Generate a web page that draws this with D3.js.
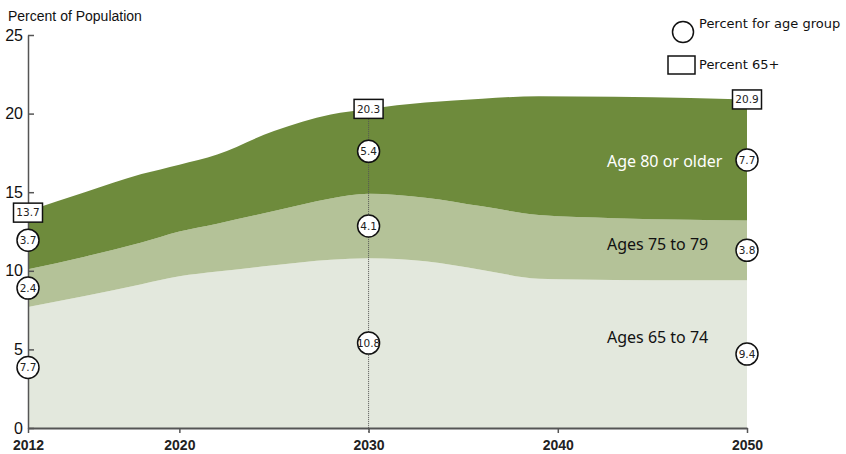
<!DOCTYPE html>
<html>
<head>
<meta charset="utf-8">
<script src="https://cdn.jsdelivr.net/npm/d3@7"></script>
<style>
  body { margin: 0; background: #fff; }
  svg { display: block; }
</style>
</head>
<body>
<svg id="chart"></svg>
<script>
// data
const years = [2012, 2015, 2018, 2020, 2022, 2025, 2028, 2030, 2033, 2036, 2039, 2043, 2047, 2050];
const ages65to74 = [7.7, 8.4, 9.15, 9.65, 9.95, 10.35, 10.7, 10.8, 10.6, 10.05, 9.5, 9.42, 9.4, 9.4];
const ages75to79 = [2.4, 2.5, 2.65, 2.85, 3.05, 3.45, 3.9, 4.1, 4.05, 4.05, 4.05, 3.93, 3.85, 3.8];
const ages80plus = [3.7, 4.1, 4.35, 4.25, 4.4, 5.1, 5.35, 5.4, 6.05, 6.85, 7.55, 7.72, 7.75, 7.7];

const groupNames = ["Ages 65 to 74", "Ages 75 to 79", "Age 80 or older"];
const labelYears = [2012, 2030, 2050];
const total65 = [13.7, 20.3, 20.9];
const xTicks = [2012, 2020, 2030, 2040, 2050];
const yTicks = [0, 5, 10, 15, 20, 25];

const width = 846, height = 454;
const margin = {top: 35, right: 99, bottom: 26, left: 28};
const w = width - margin.left - margin.right,
  h = height - margin.top - margin.bottom;

const colors = ["#e3e8dd", "#b4c298", "#6e8b3c"];
const labelColors = ["#111", "#111", "#fff"];

const svg = d3.select("#chart")
  .attr("width", width)
  .attr("height", height);

const g = svg.append("g")
  .attr("transform", "translate(" + margin.left + "," + margin.top + ")");

let x = d3.scaleLinear().domain([2012, 2050]).range([0, w]);
let y = d3.scaleLinear().domain([0, 25]).range([h, 0]);

let rows = years.map((yr, i) => ({
  year: yr, a: ages65to74[i], b: ages75to79[i], c: ages80plus[i]
}));

let stack = d3.stack().keys(["a", "b", "c"]);
let series = stack(rows);

let area = d3.area()
  .x(d => x(d.data.year))
  .y0(d => y(d[0]))
  .y1(d => y(d[1]))
  .curve(d3.curveMonotoneX);

g.selectAll(".layer")
  .data(series)
  .enter().append("path")
  .attr("class", "layer")
  .attr("d", area)
  .style("fill", (d, i) => colors[i]);

// layer names
const nameYear = 2042.6;
const nameVals = [5.4, 11.3, 16.6];
g.selectAll(".name")
  .data(groupNames)
  .enter().append("text")
  .attr("x", x(nameYear))
  .attr("y", (d, i) => y(nameVals[i]))
  .style("font-family", "'Noto Sans', sans-serif")
  .style("font-size", "16px")
  .style("fill", (d, i) => labelColors[i])
  .text(d => d);

// dotted guide at 2030
g.append("line")
  .attr("x1", x(2030)).attr("x2", x(2030))
  .attr("y1", y(20.3)).attr("y2", h + 5)
  .attr("stroke", "#555")
  .attr("stroke-width", 1)
  .attr("stroke-dasharray", "1,1");

// axes
let yAxis = d3.axisLeft(y)
  .tickValues(yTicks)
  .tickSizeInner(-6)
  .tickSizeOuter(0)
  .tickPadding(5);

let yg = g.append("g").call(yAxis);
yg.select(".domain").attr("stroke", "#555").attr("stroke-width", 1.5);
yg.selectAll(".tick line").attr("stroke", "#555").attr("stroke-width", 1.5);
yg.selectAll("text")
  .style("font-family", "'Liberation Sans', Arial, sans-serif")
  .style("font-size", "16px")
  .attr("fill", "#111");

let xAxis = d3.axisBottom(x)
  .tickValues(xTicks)
  .tickFormat(d3.format("d"))
  .tickSizeInner(5)
  .tickSizeOuter(0)
  .tickPadding(7);

let xg = g.append("g")
  .attr("transform", "translate(0," + h + ")")
  .call(xAxis);
xg.select(".domain").attr("stroke", "#555").attr("stroke-width", 2);
xg.selectAll(".tick line").attr("stroke", "#555").attr("stroke-width", 1.5);
xg.selectAll("text")
  .style("font-family", "'Liberation Sans', Arial, sans-serif")
  .style("font-size", "14px")
  .style("font-weight", "bold")
  .attr("fill", "#222");

// circle labels: value of each group at the label years
labelYears.forEach((yr, k) => {
  let idx = years.indexOf(yr);
  series.forEach((s, i) => {
    let d = s[idx];
    let cx = x(yr), cy = y((d[0] + d[1]) / 2);
    g.append("circle")
      .attr("cx", cx).attr("cy", cy).attr("r", 11)
      .attr("fill", "#fff")
      .attr("stroke", "#111")
      .attr("stroke-width", 1.5);
    g.append("text")
      .attr("x", cx).attr("y", cy)
      .attr("dy", "0.35em")
      .attr("text-anchor", "middle")
      .style("font-family", "'DejaVu Sans', Verdana, sans-serif")
      .style("font-size", "10.5px")
      .attr("fill", "#222")
      .text(d.data[["a", "b", "c"][i]].toFixed(1));
  });

  // box with total 65+
  let bx = x(yr), by = y(total65[k]);
  g.append("rect")
    .attr("x", bx - 14.5).attr("y", by - 9.5)
    .attr("width", 29).attr("height", 19)
    .attr("fill", "#fff")
    .attr("stroke", "#111")
    .attr("stroke-width", 1.5);
  g.append("text")
    .attr("x", bx).attr("y", by)
    .attr("dy", "0.35em")
    .attr("text-anchor", "middle")
    .style("font-family", "'DejaVu Sans', Verdana, sans-serif")
    .style("font-size", "10.5px")
    .attr("fill", "#222")
    .text(total65[k].toFixed(1));
});

// title
svg.append("text")
  .attr("x", 8).attr("y", 21)
  .style("font-family", "'Liberation Sans', Arial, sans-serif")
  .style("font-size", "14px")
  .attr("fill", "#111")
  .text("Percent of Population");

// legend
let lg = svg.append("g");
lg.append("circle")
  .attr("cx", 683).attr("cy", 32).attr("r", 10.5)
  .attr("fill", "#fff").attr("stroke", "#111").attr("stroke-width", 1.5);
lg.append("text")
  .attr("x", 699).attr("y", 28)
  .style("font-family", "'DejaVu Sans', Verdana, sans-serif")
  .style("font-size", "13px")
  .attr("fill", "#111")
  .text("Percent for age group");
lg.append("rect")
  .attr("x", 668).attr("y", 56).attr("width", 27).attr("height", 18)
  .attr("fill", "#fff").attr("stroke", "#111").attr("stroke-width", 1.5);
lg.append("text")
  .attr("x", 699).attr("y", 69)
  .style("font-family", "'DejaVu Sans', Verdana, sans-serif")
  .style("font-size", "13px")
  .attr("fill", "#111")
  .text("Percent 65+");
</script>
</body>
</html>
